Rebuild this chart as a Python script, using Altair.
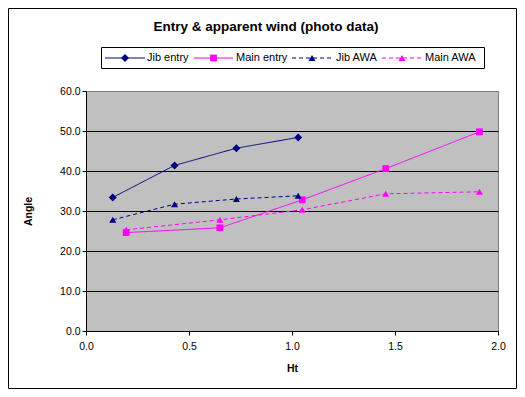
import altair as alt
import pandas as pd

series_names = ["Jib entry", "Main entry", "Jib AWA", "Main AWA"]
jib_ht = [0.13, 0.43, 0.73, 1.03]
jib_entry = [33.4, 41.4, 45.7, 48.4]
jib_awa = [27.8, 31.7, 33.0, 33.8]
main_ht = [0.195, 0.65, 1.05, 1.455, 1.91]
main_entry = [24.6, 25.8, 32.8, 40.6, 49.8]
main_awa = [25.3, 27.8, 30.3, 34.3, 34.8]
x_ticks = [0.0, 0.5, 1.0, 1.5, 2.0]
y_ticks = [0, 10, 20, 30, 40, 50, 60]

colors = ["#000080", "#FF00FF", "#000080", "#FF00FF"]
dashes = [[1, 0], [1, 0], [4, 3], [4, 3]]
shapes = ["diamond", "square", "triangle-up", "triangle-up"]
sizes = [64, 46, 50, 50]

rows = []
for name, xs, ys in [("Jib entry", jib_ht, jib_entry), ("Main entry", main_ht, main_entry),
                     ("Jib AWA", jib_ht, jib_awa), ("Main AWA", main_ht, main_awa)]:
    for xv, yv in zip(xs, ys):
        rows.append({"series": name, "ht": xv, "angle": yv})
df = pd.DataFrame(rows)

FONT = "Liberation Sans"

color_scale = alt.Scale(domain=series_names, range=colors)

base = alt.Chart(df).encode(
    x=alt.X("ht:Q", scale=alt.Scale(domain=[0, 2], nice=False),
            axis=alt.Axis(values=x_ticks, format=".1f", title="Ht", grid=False,
                          labelPadding=6, titlePadding=12, labelFlush=False)),
    y=alt.Y("angle:Q", scale=alt.Scale(domain=[0, 60], nice=False),
            axis=alt.Axis(values=y_ticks, format=".1f", title="Angle", grid=True,
                          labelPadding=2, titlePadding=26, labelFlush=False,
                          gridColor={"condition": {"test": "datum.value >= 60", "value": "#808080"},
                                     "value": "black"})),
)

def series_filter(names):
    return alt.FieldOneOfPredicate(field="series", oneOf=names)

lines = base.mark_line(strokeWidth=1).encode(
    color=alt.Color("series:N", scale=color_scale, legend=None),
    strokeDash=alt.StrokeDash("series:N", scale=alt.Scale(domain=series_names, range=dashes), legend=None),
    detail="series:N",
)

marker_layers = []
for shp, sz, names in [("diamond", 64, ["Jib entry"]), ("square", 46, ["Main entry"]),
                       ("triangle-up", 50, ["Jib AWA", "Main AWA"])]:
    marker_layers.append(
        base.transform_filter(series_filter(names)).mark_point(
            shape=shp, filled=True, size=sz, opacity=1).encode(
            color=alt.Color("series:N", scale=color_scale, legend=None)))

# legend (drawn in pixel space above the plot, like the spreadsheet legend box)
leg_y = -33
leg_line_x0 = [19, 108, 206, 296]
leg_line_x1 = [59, 147, 246, 336]
leg_mark_x = [39, 127.5, 226, 316]
leg_text_x = [61, 150, 250, 339]

one = alt.Chart(pd.DataFrame({"a": [0]}))
legend_layers = [
    one.mark_rect(fill="white", stroke="black", strokeWidth=1).encode(
        x=alt.value(15.5), x2=alt.value(398.5), y=alt.value(-43.5), y2=alt.value(-22.5))
]
for i, name in enumerate(series_names):
    legend_layers.append(one.mark_rule(color=colors[i], strokeWidth=1, strokeDash=dashes[i]).encode(
        x=alt.value(leg_line_x0[i]), x2=alt.value(leg_line_x1[i]), y=alt.value(leg_y)))
    legend_layers.append(one.mark_point(shape=shapes[i], filled=True, size=sizes[i],
                                        color=colors[i], opacity=1).encode(
        x=alt.value(leg_mark_x[i]), y=alt.value(leg_y)))
    legend_layers.append(one.mark_text(text=name, align="left", baseline="middle", font=FONT,
                                       fontSize=11, color="black").encode(
        x=alt.value(leg_text_x[i]), y=alt.value(leg_y)))

border = one.mark_rect(filled=False, stroke="black", strokeWidth=1).encode(
    x=alt.value(-77.5), x2=alt.value(430.5), y=alt.value(-82.5), y2=alt.value(297.5))

chart = alt.layer(border, lines, *marker_layers, *legend_layers).properties(
    width=412, height=240,
    autosize=alt.AutoSizeParams(type="none"),
    padding={"left": 78, "top": 83, "right": 19, "bottom": 66},
    title=alt.TitleParams("Entry & apparent wind (photo data)", font=FONT, fontSize=13.5,
                          fontWeight="bold", color="black", anchor="middle", frame="group",
                          dx=-26, dy=36, offset=0, baseline="alphabetic"),
    background="white",
).configure_view(
    fill="#C0C0C0", stroke="#808080", strokeWidth=1
).configure_axis(
    domainColor="black", tickColor="black", tickSize=4, labelFont=FONT, labelFontSize=10.5,
    labelColor="black", titleFont=FONT, titleFontSize=10.5, titleFontWeight="bold",
    titleColor="black", gridWidth=1
)

chart.save("out.html", embed_options={"renderer": "svg", "actions": False})
